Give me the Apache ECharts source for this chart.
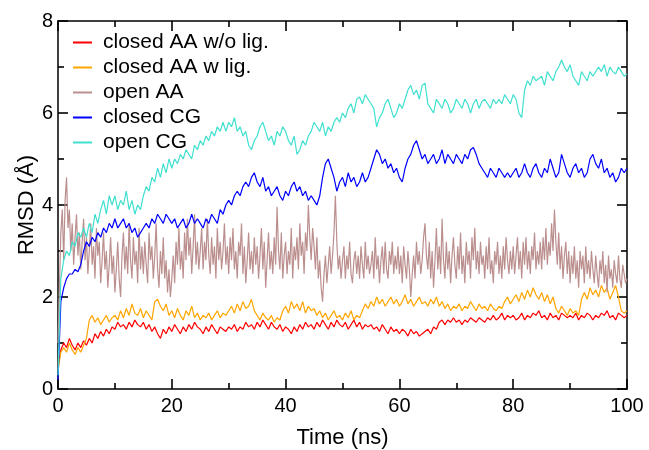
<!DOCTYPE html>
<html>
<head>
<meta charset="utf-8">
<script src="https://cdn.jsdelivr.net/npm/echarts@6/dist/echarts.min.js"></script>
<style>
  html, body { margin: 0; padding: 0; background: #fff; }
  #chart { width: 649px; height: 450px; }
</style>
</head>
<body>
<div id="chart"></div>
<script>
// RMSD trajectories, 0 to 100 ns. The all-atom open run is stored at a finer step.
const timeStep = 0.5;
const openAAStep = 0.25;

const closedAAnoLig = [
  0.5, 0.85, 1.0, 0.9, 1.1, 0.95, 0.85, 1.0, 0.9, 1.05,
  0.95, 1.1, 1.0, 1.2, 1.1, 1.25, 1.15, 1.3, 1.2, 1.35,
  1.3, 1.45, 1.35, 1.4, 1.3, 1.45, 1.35, 1.5, 1.4, 1.35,
  1.45, 1.3, 1.4, 1.25, 1.35, 1.2, 1.1, 1.3, 1.2, 1.35,
  1.25, 1.4, 1.3, 1.2, 1.35, 1.25, 1.4, 1.3, 1.45, 1.35,
  1.3, 1.2, 1.35, 1.25, 1.4, 1.3, 1.2, 1.35, 1.3, 1.25,
  1.35, 1.3, 1.4, 1.25, 1.35, 1.3, 1.45, 1.35, 1.4, 1.3,
  1.45, 1.35, 1.5, 1.4, 1.3, 1.45, 1.35, 1.3, 1.4, 1.25,
  1.35, 1.3, 1.2, 1.35, 1.25, 1.4, 1.3, 1.45, 1.35, 1.4,
  1.3, 1.45, 1.35, 1.5, 1.4, 1.3, 1.45, 1.35, 1.5, 1.4,
  1.35, 1.45, 1.3, 1.4, 1.5, 1.35, 1.45, 1.3, 1.4, 1.35,
  1.4, 1.3, 1.35, 1.25, 1.4, 1.3, 1.2, 1.35, 1.25, 1.3,
  1.2, 1.3, 1.25, 1.15, 1.3, 1.2, 1.25, 1.15, 1.2, 1.25,
  1.3, 1.2, 1.35, 1.3, 1.45, 1.5, 1.4, 1.5, 1.45, 1.55,
  1.45, 1.5, 1.4, 1.5, 1.45, 1.55, 1.5, 1.45, 1.55, 1.5,
  1.45, 1.55, 1.5, 1.6, 1.5, 1.55, 1.65, 1.5, 1.6, 1.55,
  1.6, 1.5, 1.55, 1.65, 1.5, 1.6, 1.55, 1.65, 1.6, 1.7,
  1.55, 1.6, 1.5, 1.65, 1.55, 1.6, 1.5, 1.65, 1.6, 1.55,
  1.6, 1.55, 1.65, 1.5, 1.6, 1.55, 1.65, 1.6, 1.5, 1.6,
  1.55, 1.65, 1.6, 1.7, 1.55, 1.6, 1.5, 1.65, 1.6, 1.55,
  1.6
];

const closedAAwithLig = [
  0.4, 0.8, 0.9, 0.8, 1.0, 0.85, 0.75, 0.9, 0.8, 0.95,
  1.1, 1.5, 1.6, 1.45, 1.55, 1.4, 1.5, 1.6, 1.45, 1.55,
  1.6, 1.5, 1.7, 1.55, 1.75, 1.6, 1.85, 1.65, 1.6, 1.75,
  1.55, 1.7, 1.6, 1.5, 1.9, 1.95, 1.8, 1.7, 1.85, 1.6,
  1.7, 1.55, 1.75, 1.6, 1.5, 1.7, 1.6, 1.8, 1.55, 1.65,
  1.5, 1.6, 1.55, 1.65, 1.5, 1.6, 1.7, 1.55, 1.65, 1.6,
  1.7, 1.8, 1.65, 1.85, 1.7, 1.9, 1.75, 1.8, 1.95, 1.7,
  1.6, 1.5, 1.65, 1.55, 1.5, 1.6, 1.45, 1.55, 1.5, 1.7,
  1.8, 1.65, 1.9, 1.75, 1.85, 1.7, 1.9, 1.65, 1.8, 1.7,
  1.75, 1.6, 1.7, 1.55, 1.65, 1.5, 1.6, 1.7, 1.55, 1.6,
  1.5, 1.65, 1.55, 1.7, 1.5, 1.6, 1.55, 1.7, 1.85, 1.75,
  1.9, 1.8, 2.0, 1.85, 1.95, 1.8, 1.9, 2.0, 1.85, 1.95,
  1.8, 1.9, 2.05, 1.85, 1.95, 1.8, 1.9, 2.0, 1.85, 1.9,
  1.8, 1.95, 1.85, 2.0, 1.8, 1.9, 1.75, 1.85, 1.7, 1.8,
  1.75, 1.85, 1.7, 1.8, 1.75, 1.9, 1.8, 1.7, 1.85, 1.75,
  1.8, 1.7, 1.85, 1.75, 1.7, 1.8, 1.75, 1.9, 2.0, 1.85,
  1.95, 2.05, 1.9, 2.1, 1.95, 2.15, 2.0, 2.2, 2.05, 1.95,
  2.1, 1.9, 2.05, 1.85, 2.0, 1.75, 1.65, 1.8, 1.7, 1.6,
  1.75, 1.65, 1.7, 1.6, 1.95, 2.1, 1.95, 2.2, 2.05, 2.15,
  2.0, 2.25, 2.1, 2.2, 1.95, 2.1, 2.25, 2.0, 1.7, 1.65,
  1.7
];

const openAA = [
  1.0, 2.2, 3.4, 3.9, 2.8, 4.1, 4.6, 3.5, 3.9, 3.0, 3.6, 2.7, 3.3, 3.8, 2.9, 3.4, 2.6, 3.2, 3.7, 2.8,
  3.3, 2.5, 3.0, 3.6, 2.7, 3.1, 2.4, 3.5, 2.9, 3.2, 2.3, 2.8, 3.4, 2.6, 3.0, 2.2, 2.7, 3.3, 2.5, 2.9,
  2.1, 2.6, 3.2, 2.4, 2.0, 2.9, 3.4, 2.6, 3.1, 2.5, 3.6, 2.8, 2.4, 3.3, 2.7, 3.0, 2.3, 3.5, 2.6, 3.1,
  2.5, 3.2, 2.7, 2.3, 3.4, 2.8, 3.1, 2.4, 2.9, 3.6, 2.6, 2.2, 3.0, 2.5, 3.3, 2.4, 2.8, 2.1, 2.6, 2.0,
  2.4, 2.9, 2.3, 3.2, 2.7, 3.5, 2.6, 3.0, 2.4, 3.4, 2.8, 3.7, 2.9, 3.3, 2.5, 3.1, 3.8, 2.7, 3.2, 2.6,
  3.0, 3.5, 2.6, 3.2, 2.8, 3.7, 2.9, 2.5, 3.3, 2.7, 3.1, 2.4, 3.5, 2.8, 3.2, 2.6, 3.0, 3.6, 2.7, 3.1,
  2.5, 3.3, 2.8, 3.5, 2.6, 3.0, 2.4, 3.2, 2.9, 3.6, 2.5, 3.1, 2.3, 2.8, 3.4, 2.6, 3.0, 2.5, 3.3, 2.7,
  3.1, 2.4, 2.9, 3.5, 2.6, 3.2, 2.2, 2.8, 3.4, 2.6, 3.0, 2.5, 3.3, 2.7, 3.96, 3.0, 2.6, 3.4, 2.4, 2.9,
  3.2, 2.5, 3.0, 2.7, 3.5, 2.4, 3.1, 2.8, 3.3, 2.6, 3.6, 2.9, 3.2, 2.5, 3.4, 3.0, 4.0, 3.3, 2.8, 3.5,
  3.1, 2.6, 3.3, 2.4, 2.8, 2.2, 1.9, 2.5, 2.9, 2.3, 2.7, 3.1, 2.5, 2.9, 3.4, 4.2, 3.2, 2.6, 2.9, 2.4,
  2.8, 3.1, 2.4, 2.9, 2.6, 3.2, 2.5, 2.3, 2.8, 3.0, 2.5, 2.9, 2.4, 3.1, 2.7, 2.4, 3.2, 2.6, 2.9, 2.5,
  2.7, 3.0, 2.4, 3.3, 2.6, 2.9, 2.3, 2.8, 3.1, 2.5, 3.2, 2.6, 2.4, 3.0, 2.7, 3.2, 2.5, 2.9, 2.6, 3.1,
  2.5, 2.9, 2.3, 3.1, 2.7, 2.4, 3.0, 2.6, 2.0, 2.5, 2.9, 2.4, 3.2, 2.7, 3.0, 2.5, 2.8, 3.3, 3.6, 2.9,
  2.6, 3.2, 2.4, 3.0, 2.2, 2.8, 3.5, 2.6, 3.1, 2.5, 3.7, 2.8, 2.4, 3.2, 2.6, 3.0, 2.3, 2.9, 3.3, 2.7,
  2.4, 3.1, 2.6, 3.4, 2.5, 2.9, 2.3, 3.2, 2.7, 3.0, 2.4, 3.3, 2.8, 3.5, 2.6, 3.0, 2.5, 3.2, 2.7, 2.9,
  2.4, 3.1, 2.6, 3.3, 2.5, 2.8, 2.3, 3.0, 2.7, 3.2, 2.5, 2.9, 2.4, 3.1, 2.6, 3.3, 2.8, 2.5, 3.0, 2.6,
  3.1, 2.5, 2.9, 3.3, 2.6, 3.0, 2.4, 3.2, 2.7, 3.3, 2.6, 3.0, 2.5, 3.1, 2.8, 3.4, 2.6, 3.0, 2.7, 3.2,
  2.6, 3.3, 2.8, 3.5, 2.7, 3.2, 2.9, 3.6, 3.0, 3.9, 3.2, 2.7, 3.4, 2.6, 3.1, 2.4, 2.9, 3.2, 2.5, 3.0,
  2.3, 2.9, 2.5, 3.1, 2.4, 2.8, 2.2, 3.0, 2.6, 2.9, 2.3, 3.1, 2.5, 2.8, 2.4, 3.0, 2.6, 2.3, 2.9, 2.5,
  2.2, 2.8, 2.5, 3.0, 2.3, 2.7, 2.1, 2.9, 2.4, 2.6, 2.2, 2.8, 2.5, 2.3, 2.9, 2.4, 2.2, 2.7, 2.5, 2.3,
  2.4
];

const closedCG = [
  0.2, 1.9, 2.2, 2.4, 2.5, 2.5, 2.6, 2.55, 2.7, 3.0,
  3.2, 3.1, 3.3, 3.2, 3.4, 3.3, 3.5, 3.4, 3.6, 3.5,
  3.7, 3.5, 3.6, 3.7, 3.5, 3.6, 3.4, 3.5, 3.3, 3.4,
  3.5, 3.6, 3.5, 3.7, 3.6, 3.8, 3.7, 3.6, 3.8, 3.7,
  3.6, 3.7, 3.5, 3.6, 3.7, 3.5, 3.6, 3.8, 3.6, 3.7,
  3.6, 3.5, 3.7, 3.6, 3.8, 3.7, 3.6, 3.9, 3.8, 4.0,
  4.1, 4.0, 4.2, 4.3, 4.2, 4.4, 4.5, 4.4, 4.6, 4.7,
  4.5, 4.4, 4.6, 4.3, 4.4, 4.2, 4.3, 4.4, 4.2, 4.1,
  4.3, 4.2, 4.4, 4.5, 4.3, 4.4, 4.2, 4.3, 4.1, 4.2,
  4.1, 4.0, 4.2, 4.6, 4.9, 5.0, 4.8, 4.6, 4.3, 4.5,
  4.6, 4.4, 4.7, 4.5, 4.6, 4.4, 4.5, 4.7, 4.5, 4.6,
  4.8, 5.0, 5.2, 5.1, 4.9, 5.0, 4.8, 4.9, 4.7, 4.8,
  4.6, 4.5, 4.8, 5.0, 5.1, 5.3, 5.4, 5.2, 5.0, 5.1,
  4.9, 5.0, 5.1, 4.9, 5.0, 5.2, 4.9, 5.1, 5.0, 4.9,
  5.1, 5.0, 4.9, 5.1, 5.0, 5.2, 5.25, 5.1, 4.9, 4.8,
  4.7, 4.6, 4.8, 4.7, 4.6, 4.8, 4.7, 4.6, 4.7, 4.6,
  4.7, 4.8, 4.6, 4.7, 4.9, 4.7, 4.6, 4.8, 4.9, 4.7,
  4.6, 4.8, 4.7, 5.0, 4.8, 4.6, 4.7, 5.1, 4.9, 4.7,
  4.6, 4.8, 4.9, 4.7, 4.8, 4.6, 4.7, 5.0, 5.1, 4.9,
  4.8, 5.0, 4.7, 4.8, 4.6, 4.7, 4.5, 4.6, 4.8, 4.7,
  4.8
];

const openCG = [
  0.3, 2.4, 2.8, 3.0, 2.9, 3.2, 3.1, 3.4, 3.3, 3.5,
  3.3, 3.6, 3.4, 3.8, 3.6, 3.9, 4.1, 3.8, 4.2, 4.0,
  4.2, 3.9, 4.1, 4.0, 4.3, 3.9, 4.1, 3.8, 4.0, 3.9,
  4.2, 4.4, 4.3, 4.6, 4.5, 4.8, 4.6, 4.9, 4.7, 5.0,
  4.8, 5.0, 4.9, 5.1, 5.0, 5.2, 5.1, 5.0, 5.3, 5.2,
  5.4, 5.3, 5.5, 5.4, 5.6, 5.5, 5.7, 5.6, 5.8, 5.6,
  5.8, 5.7, 5.9, 5.6, 5.7, 5.5, 5.6, 5.3, 5.2, 5.4,
  5.5, 5.7, 5.8, 5.6, 5.4, 5.5, 5.3, 5.6, 5.5, 5.7,
  5.6, 5.4, 5.3, 5.5, 5.1, 5.2, 5.4, 5.3, 5.5, 5.6,
  5.8, 5.7, 5.6, 5.8, 5.5, 5.7, 5.6, 5.8, 5.9, 5.8,
  6.0, 5.9, 6.1, 6.2, 6.0, 6.3, 6.35, 6.2, 6.4, 6.3,
  6.2, 6.1, 5.7, 5.9, 6.0, 6.2, 6.3, 6.1, 5.9, 6.0,
  6.2, 6.1, 6.3, 6.5, 6.6, 6.4, 6.5, 6.3, 6.6, 6.65,
  6.2, 6.1, 6.0, 6.3, 6.2, 6.1, 6.3, 6.2, 6.0, 6.1,
  6.3, 6.2, 6.1, 6.3, 6.2, 6.0, 6.2, 6.3, 6.1, 6.25,
  6.3, 6.2, 6.1, 6.3, 6.2, 6.3, 6.2, 6.4, 6.3, 6.2,
  6.4, 6.3, 6.0, 5.9, 6.5, 6.7, 6.6, 6.8, 6.7, 6.75,
  6.8, 6.6, 6.9, 6.8, 6.7, 6.9, 7.0, 7.15, 7.0, 6.9,
  7.05, 6.8, 6.7, 6.6, 6.9, 6.8, 6.7, 6.9, 6.8, 6.9,
  7.0, 6.9, 7.05, 6.8, 7.0, 6.9, 6.85, 7.0, 6.9, 6.8,
  6.85
];

const seriesNames = ['closed AA w/o lig.', 'closed AA w lig.', 'open AA', 'closed CG', 'open CG'];
const seriesValues = [closedAAnoLig, closedAAwithLig, openAA, closedCG, openCG];
const seriesSteps = [timeStep, timeStep, openAAStep, timeStep, timeStep];
const seriesColors = ['#ff0000', '#ffa500', '#bc8f8f', '#0000ff', '#40e0d0'];

const xTickLabels = ['0', '20', '40', '60', '80', '100'];
const yTickLabels = ['0', '2', '4', '6', '8'];

const font = 'Liberation Sans, Arial, Helvetica, sans-serif';
const black = '#000';

// One framed axis per side: inward major ticks at the labelled values, half-step minor ticks
function frameAxis(extra) {
  return Object.assign({
    type: 'value',
    axisLine: { show: true, onZero: false, lineStyle: { color: black, width: 1.5 } },
    axisTick: { show: true, inside: true, length: 10, lineStyle: { color: black, width: 1.6 } },
    minorTick: { show: true, splitNumber: 2, length: 6, lineStyle: { color: black, width: 1.6 } },
    splitLine: { show: false },
    minorSplitLine: { show: false },
    axisLabel: { show: false }
  }, extra);
}

function toPairs(values, step) {
  return values.map((v, i) => [i * step, v]);
}

const chart = echarts.init(document.getElementById('chart'), null, { renderer: 'canvas' });

chart.setOption({
  animation: false,
  backgroundColor: '#fff',
  grid: { left: 58, right: 22, top: 21, bottom: 61, outerBoundsMode: 'none' },
  legend: {
    orient: 'vertical',
    left: 73,
    top: 32,
    padding: 0,
    itemGap: 4,
    itemWidth: 19,
    itemHeight: 2,
    icon: 'rect',
    data: seriesNames,
    textStyle: { color: black, fontSize: 21, fontFamily: font, padding: [0, 0, 0, 6] }
  },
  xAxis: [
    frameAxis({
      min: 0, max: 100, interval: 20, position: 'bottom',
      axisLabel: {
        show: true, color: black, fontSize: 20, fontFamily: font, margin: 7,
        formatter: (v) => xTickLabels[Math.round(v / 20)]
      },
      name: 'Time (ns)', nameLocation: 'middle', nameGap: 38,
      nameTextStyle: { color: black, fontSize: 22, fontFamily: font }
    }),
    frameAxis({ min: 0, max: 100, interval: 20, position: 'top' })
  ],
  yAxis: [
    frameAxis({
      min: 0, max: 8, interval: 2, position: 'left',
      axisLabel: {
        show: true, color: black, fontSize: 20, fontFamily: font, margin: 5,
        formatter: (v) => yTickLabels[Math.round(v / 2)]
      },
      name: 'RMSD (Å)', nameLocation: 'middle', nameGap: 20, nameRotate: 90,
      nameMoveOverlap: false,
      nameTextStyle: { color: black, fontSize: 22, fontFamily: font }
    }),
    frameAxis({ min: 0, max: 8, interval: 2, position: 'right' })
  ],
  series: seriesNames.map((name, k) => ({
    name: name,
    type: 'line',
    xAxisIndex: 0,
    yAxisIndex: 0,
    data: toPairs(seriesValues[k], seriesSteps[k]),
    showSymbol: false,
    symbol: 'none',
    color: seriesColors[k],
    lineStyle: { color: seriesColors[k], width: 1.2 },
    itemStyle: { color: seriesColors[k] },
    clip: true
  }))
});
</script>
</body>
</html>
